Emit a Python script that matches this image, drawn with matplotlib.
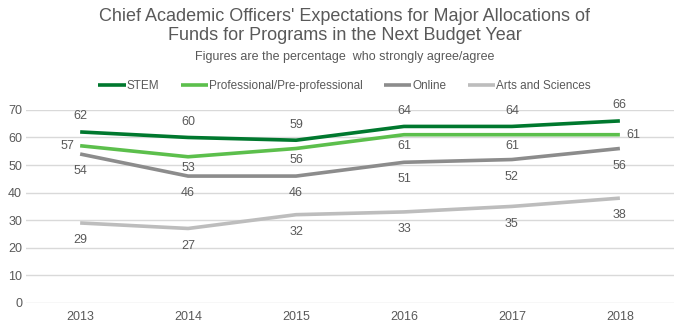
import numpy as np
import matplotlib
matplotlib.use("Agg")
from matplotlib import pyplot as plt

plt.rcParams['font.family'] = ['Liberation Sans', 'DejaVu Sans']

years = ['2013', '2014', '2015', '2016', '2017', '2018']
stem = [62, 60, 59, 64, 64, 66]
prof = [57, 53, 56, 61, 61, 61]
online = [54, 46, 46, 51, 52, 56]
arts = [29, 27, 32, 33, 35, 38]

series_names = ['STEM', 'Professional/Pre-professional', 'Online', 'Arts and Sciences']
series_vals = [stem, prof, online, arts]
colors = ['#00782E', '#5CBF4C', '#8C8C8C', '#BDBDBD']
txt = '#595959'

fig = plt.figure(figsize=(6.89, 3.34), dpi=100)
ax = fig.add_axes([0.038, 0.093, 0.940, 0.578])

x = np.arange(len(years))
for name, vals, c in zip(series_names, series_vals, colors):
    ax.plot(x, vals, color=c, lw=2.6, label=name, solid_capstyle='butt', zorder=3)

# data labels
for i, v in enumerate(stem):
    ax.annotate(str(v), (x[i], v), xytext=(0, 7), textcoords='offset points',
                ha='center', va='bottom', fontsize=9, color=txt)
for i, v in enumerate(prof):
    if i == 0:
        ax.annotate(str(v), (x[i], v), xytext=(-4, 0), textcoords='offset points',
                    ha='right', va='center', fontsize=9, color=txt)
    elif i == len(prof) - 1:
        ax.annotate(str(v), (x[i], v), xytext=(5, 0), textcoords='offset points',
                    ha='left', va='center', fontsize=9, color=txt)
    else:
        ax.annotate(str(v), (x[i], v), xytext=(0, -4), textcoords='offset points',
                    ha='center', va='top', fontsize=9, color=txt)
for vals in (online, arts):
    for i, v in enumerate(vals):
        ax.annotate(str(v), (x[i], v), xytext=(0, -8), textcoords='offset points',
                    ha='center', va='top', fontsize=9, color=txt)

ax.set_xlim(-0.5, len(years) - 0.5)
ax.set_ylim(0, 70)
ax.set_yticks(range(0, 71, 10))
ax.set_xticks(x)
ax.set_xticklabels(years)
ax.grid(axis='y', color='#D9D9D9', lw=1)
ax.set_axisbelow(True)
for s in ax.spines.values():
    s.set_visible(False)
ax.tick_params(length=0, labelsize=9, colors=txt, pad=6)
ax.tick_params(axis='y', pad=3)

fig.text(0.5, 0.975, "Chief Academic Officers' Expectations for Major Allocations of\n"
         "Funds for Programs in the Next Budget Year",
         ha='center', va='top', fontsize=13, color=txt, linespacing=1.15)
fig.text(0.5, 0.828, "Figures are the percentage  who strongly agree/agree",
         ha='center', va='center', fontsize=9, color=txt)

fig.legend(loc='center', bbox_to_anchor=(0.5, 0.742), ncol=4, frameon=False,
           fontsize=8.5, labelcolor=txt, handlelength=2.3, handletextpad=0.1,
           columnspacing=1.8)

fig.savefig('out.png', dpi=100)
